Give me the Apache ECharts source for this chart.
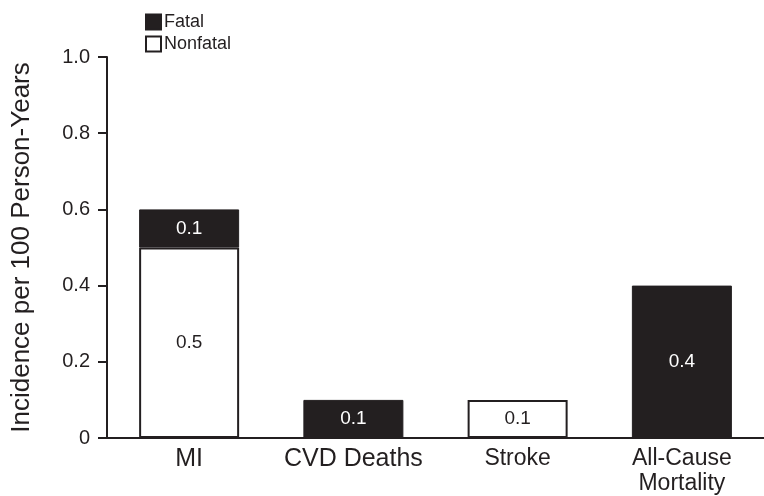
<!DOCTYPE html>
<html>
<head>
<meta charset="utf-8">
<script src="https://cdn.jsdelivr.net/npm/echarts@6/dist/echarts.min.js"></script>
<style>html,body{margin:0;padding:0;background:#fff;}#c{width:764px;height:496px;}</style>
</head>
<body>
<div id="c"></div>
<script>
const categories = ['MI', 'CVD Deaths', 'Stroke', 'All-Cause\nMortality'];
const nonfatal = [0.5, '-', 0.1, '-'];
const fatal = [0.1, 0.1, '-', 0.4];
const yTicks = [0, 0.2, 0.4, 0.6, 0.8, 1.0];
const seriesNames = ['Fatal', 'Nonfatal'];

const dark = '#231f20';
const font = '"Liberation Sans", Arial, sans-serif';
const chart = echarts.init(document.getElementById('c'));
chart.setOption({
  animation: false,
  textStyle: { fontFamily: font, color: dark },
  legend: {
    data: seriesNames.map(function (n) { return { name: n, icon: 'rect' }; }),
    orient: 'vertical',
    left: 140, top: 8,
    itemWidth: 15, itemHeight: 15, itemGap: 4,
    textStyle: { fontSize: 18, color: dark, fontFamily: font, padding: [0, 0, 0, -2] },
    selectedMode: false
  },
  grid: { left: 107, top: 57, bottom: 58, width: 668 },
  xAxis: {
    type: 'category',
    data: categories,
    axisLine: { lineStyle: { color: dark, width: 2 } },
    axisTick: { show: false },
    axisLabel: {
      margin: 8,
      interval: 0,
      formatter: function (v, i) {
        const st = (i < 2) ? 'b' : 's';
        return v.split('\n').map(function (p) { return '{' + st + '|' + p + '}'; }).join('\n');
      },
      rich: {
        b: { fontSize: 25, lineHeight: 26, color: dark, fontFamily: font },
        s: { fontSize: 23, lineHeight: 25, color: dark, fontFamily: font }
      }
    }
  },
  yAxis: {
    type: 'value',
    min: yTicks[0], max: yTicks[yTicks.length - 1], interval: 0.2,
    name: 'Incidence per 100 Person-Years',
    nameLocation: 'middle',
    nameGap: 72,
    nameTextStyle: { fontSize: 26, color: dark, fontFamily: font, padding: [0, 0, 0, 0] },
    axisLine: { show: true, lineStyle: { color: dark, width: 2 } },
    axisTick: { show: true, length: 9, lineStyle: { color: dark, width: 2 } },
    splitLine: { show: false },
    axisLabel: {
      margin: 17,
      fontSize: 20, color: dark, fontFamily: font,
      formatter: function (v) { return v === 0 ? '0' : v.toFixed(1); }
    }
  },
  series: [
    {
      name: 'Nonfatal', type: 'bar', stack: 'a', data: nonfatal, barWidth: 100,
      itemStyle: { color: '#ffffff', borderColor: dark, borderWidth: 2 },
      label: { show: true, position: 'inside', color: dark, fontSize: 19, fontFamily: font,
        formatter: function (p) { return Number(p.value).toFixed(1); } }
    },
    {
      name: 'Fatal', type: 'bar', stack: 'a', data: fatal, barWidth: 100,
      itemStyle: { color: dark, borderColor: dark, borderWidth: 1 },
      label: { show: true, position: 'inside', color: '#ffffff', fontSize: 19, fontFamily: font,
        formatter: function (p) { return Number(p.value).toFixed(1); } }
    }
  ]
});
</script>
</body>
</html>
